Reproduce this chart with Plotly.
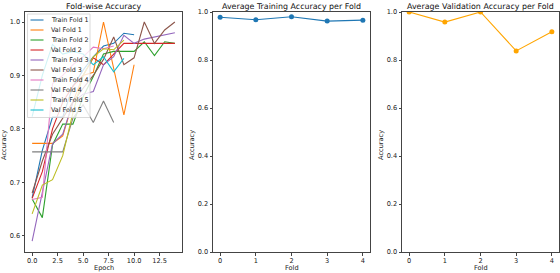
import plotly.graph_objects as go

# ---------------- data ----------------
epochs_f1 = list(range(11))
epochs_f2 = list(range(15))
epochs_f3 = list(range(15))
epochs_f4 = list(range(9))
epochs_f5 = list(range(10))

train_f1 = [0.671, 0.760, 0.822, 0.822, 0.880, 0.910, 0.935, 0.955, 0.960, 0.979, 0.976]
val_f1 = [0.773, 0.773, 0.773, 0.787, 0.850, 0.900, 0.906, 1.000, 0.913, 0.826, 0.920]
train_f2 = [0.669, 0.634, 0.770, 0.809, 0.809, 0.860, 0.898, 0.940, 0.945, 0.945, 0.945, 0.963, 0.937, 0.963, 0.960]
val_f2 = [0.670, 0.720, 0.800, 0.850, 0.880, 0.900, 0.933, 0.920, 0.940, 0.960, 0.960, 0.960, 0.960, 0.960, 0.960]
train_f3 = [0.590, 0.680, 0.772, 0.790, 0.850, 0.865, 0.870, 0.920, 0.935, 0.975, 0.960, 0.968, 0.972, 0.975, 0.980]
val_f3 = [0.680, 0.740, 0.790, 0.820, 0.850, 0.876, 0.900, 0.930, 0.972, 0.920, 0.933, 1.000, 0.960, 0.985, 1.000]
train_f4 = [0.668, 0.672, 0.885, 0.900, 0.920, 0.935, 0.953, 0.950, 0.955]
val_f4 = [0.757, 0.757, 0.757, 0.757, 0.820, 0.845, 0.812, 0.852, 0.812]
train_f5 = [0.641, 0.695, 0.705, 0.750, 0.830, 0.900, 0.935, 0.950, 0.948, 0.966]
val_f5 = [0.823, 0.900, 0.958, 0.940, 0.945, 0.940, 0.920, 0.935, 0.907, 0.932]

folds = [0, 1, 2, 3, 4]
avg_train = [0.978, 0.968, 0.980, 0.962, 0.966]
avg_val = [1.000, 0.958, 1.000, 0.838, 0.918]

epoch_ticks = [0, 2.5, 5, 7.5, 10, 12.5]
epoch_ticktext = ["0.0", "2.5", "5.0", "7.5", "10.0", "12.5"]
acc_ticks1 = [0.6, 0.7, 0.8, 0.9, 1.0]
acc_ticks2 = [0.0, 0.2, 0.4, 0.6, 0.8, 1.0]

titles = ["Fold-wise Accuracy", "Average Training Accuracy per Fold", "Average Validation Accuracy per Fold"]

series = [
    ("Train Fold 1", epochs_f1, train_f1),
    ("Val Fold 1", epochs_f1, val_f1),
    ("Train Fold 2", epochs_f2, train_f2),
    ("Val Fold 2", epochs_f2, val_f2),
    ("Train Fold 3", epochs_f3, train_f3),
    ("Val Fold 3", epochs_f3, val_f3),
    ("Train Fold 4", epochs_f4, train_f4),
    ("Val Fold 4", epochs_f4, val_f4),
    ("Train Fold 5", epochs_f5, train_f5),
    ("Val Fold 5", epochs_f5, val_f5),
]
colors = ["#1f77b4", "#ff7f0e", "#2ca02c", "#d62728", "#9467bd",
          "#8c564b", "#e377c2", "#7f7f7f", "#bcbd22", "#17becf"]

# ---------------- figure ----------------
W, H = 560, 273
FONT = "DejaVu Sans"
def px(x):
    return x / W
def py(y):
    return 1 - y / H

fig = go.Figure()
for (name, xs, ys), c in zip(series, colors):
    fig.add_trace(go.Scatter(x=xs, y=ys, mode="lines", name=name,
                             line=dict(color=c, width=1.1),
                             xaxis="x", yaxis="y", showlegend=False))

fig.add_trace(go.Scatter(x=folds, y=avg_train, mode="lines+markers",
                         line=dict(color="#1f77b4", width=1.1),
                         marker=dict(color="#1f77b4", size=5),
                         xaxis="x2", yaxis="y2", showlegend=False))
fig.add_trace(go.Scatter(x=folds, y=avg_val, mode="lines+markers",
                         line=dict(color="#ffa500", width=1.1),
                         marker=dict(color="#ffa500", size=5),
                         xaxis="x3", yaxis="y3", showlegend=False))

axis_common = dict(showline=True, mirror=True, linecolor="#444", linewidth=1,
                   ticks="outside", ticklen=2.5, tickwidth=0.8, tickcolor="#444",
                   showgrid=False, zeroline=False,
                   tickfont=dict(family=FONT, size=6.6, color="#222"),
                   automargin=False)

ydom = [py(252), py(12)]
fig.update_layout(
    width=W, height=H,
    margin=dict(l=0, r=0, t=0, b=0),
    paper_bgcolor="white", plot_bgcolor="white",
    xaxis=dict(domain=[px(25), px(182)], range=[-0.7, 14.7], anchor="y",
               tickvals=epoch_ticks, ticktext=epoch_ticktext, **axis_common),
    yaxis=dict(domain=ydom, range=[0.5697, 1.0187], anchor="x",
               tickvals=acc_ticks1, ticktext=[f"{v:.1f}" for v in acc_ticks1], **axis_common),
    xaxis2=dict(domain=[px(213), px(370)], range=[-0.2, 4.2], anchor="y2",
                tickvals=folds, **axis_common),
    yaxis2=dict(domain=ydom, range=[0, 1.0], anchor="x2",
                tickvals=acc_ticks2, ticktext=[f"{v:.1f}" for v in acc_ticks2], **axis_common),
    xaxis3=dict(domain=[px(402), px(559)], range=[-0.2, 4.2], anchor="y3",
                tickvals=folds, **axis_common),
    yaxis3=dict(domain=ydom, range=[0, 1.0], anchor="x3",
                tickvals=acc_ticks2, ticktext=[f"{v:.1f}" for v in acc_ticks2], **axis_common),
)

annotations = []
shapes = []
# titles and axis labels
panel_x = [(25, 182), (213, 370), (402, 559)]
xlabels = ["Epoch", "Fold", "Fold"]
ylabel_x = [4, 192, 381]
for (x0, x1), t, xl, yx in zip(panel_x, titles, xlabels, ylabel_x):
    annotations.append(dict(text=t, x=px((x0 + x1) / 2), y=py(6), xref="paper", yref="paper",
                            xanchor="center", yanchor="middle", showarrow=False,
                            font=dict(family=FONT, size=7.9, color="#111")))
    annotations.append(dict(text=xl, x=px((x0 + x1) / 2), y=py(267.5), xref="paper", yref="paper",
                            xanchor="center", yanchor="middle", showarrow=False,
                            font=dict(family=FONT, size=6.6, color="#222")))
    annotations.append(dict(text="Accuracy", x=px(yx), y=py(145), xref="paper", yref="paper",
                            xanchor="center", yanchor="middle", showarrow=False, textangle=-90,
                            font=dict(family=FONT, size=6.6, color="#222")))

# legend (drawn manually, compact like matplotlib)
shapes.append(dict(type="rect", xref="paper", yref="paper",
                   x0=px(27.5), x1=px(90), y0=py(117.5), y1=py(14),
                   fillcolor="rgba(255,255,255,0.8)", line=dict(color="#d0d0d0", width=0.8),
                   layer="above"))
for i, ((name, _, _), c) in enumerate(zip(series, colors)):
    yy = 20 + 10 * i
    shapes.append(dict(type="line", xref="paper", yref="paper",
                       x0=px(30.5), x1=px(43.5), y0=py(yy), y1=py(yy),
                       line=dict(color=c, width=1.1), layer="above"))
    annotations.append(dict(text=name, x=px(49), y=py(yy), xref="paper", yref="paper",
                            xanchor="left", yanchor="middle", showarrow=False,
                            font=dict(family=FONT, size=6.4, color="#222")))

fig.update_layout(annotations=annotations, shapes=shapes)
fig.write_html("out.html")
